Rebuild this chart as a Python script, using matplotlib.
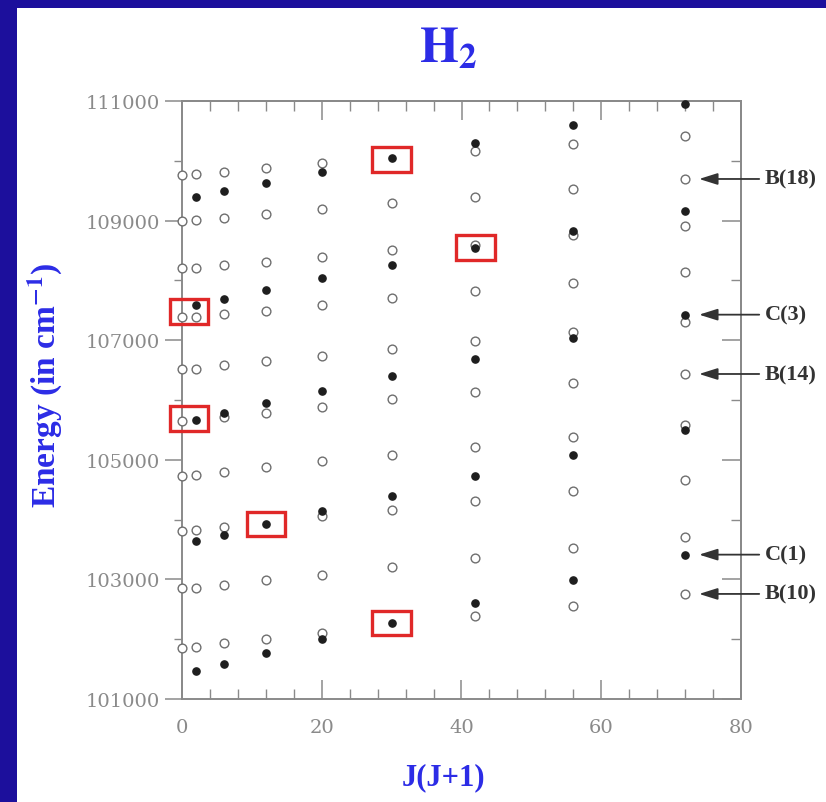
import matplotlib
matplotlib.use("Agg")
import matplotlib.pyplot as plt
from matplotlib.patches import Rectangle
from matplotlib.ticker import MultipleLocator

# J(J+1) columns
jj = [0, 2, 6, 12, 20, 30, 42, 56, 72]

# open circles: levels per column (cm^-1)
open_levels = [
    [109768, 108999, 108208, 107394, 106519, 105655, 104735, 103816, 102852, 101854],
    [109775, 109005, 108215, 107394, 106525, 104745, 103827, 102862, 101865],
    [109818, 109044, 108253, 107439, 106591, 105710, 104797, 103882, 102913, 101933],
    [109880, 109111, 108308, 107494, 106658, 105778, 104875, 102991, 102000],
    [109958, 109194, 108397, 107594, 106741, 105879, 104976, 104061, 103080, 102110],
    [109290, 108509, 107701, 106853, 106010, 105086, 104162, 103214],
    [110159, 109400, 108597, 107818, 106992, 106129, 105220, 104307, 103359, 102389],
    [110281, 109529, 108764, 107957, 107133, 106280, 105377, 104474, 103526, 102556],
    [110420, 109696, 108915, 108136, 107300, 106435, 105588, 104663, 103715, 102757],
]

# filled dots: levels per column (cm^-1)
filled_levels = [
    [],
    [109400, 107594, 105666, 103638, 101475],
    [109490, 107695, 105778, 103749, 101587],
    [109624, 107840, 105946, 103927, 101766],
    [109808, 108036, 106156, 104140, 102000],
    [110042, 108258, 106402, 104401, 102267],
    [110303, 108542, 106686, 104730, 102607],
    [110604, 108831, 107037, 105086, 102991],
    [110950, 109166, 107427, 105499, 103414],
]

# highlighted crossings (box centres)
box_x = [30, 42, 1, 1, 12, 30]
box_e = [110020, 108547, 107480, 105690, 103927, 102267]

# labelled levels at the last column
label_names = ["B(18)", "C(3)", "B(14)", "C(1)", "B(10)"]
label_e = [109696, 107427, 106435, 103414, 102757]

blue = "#2c2ce6"
gray = "#8a8a8a"

plt.rcParams["mathtext.fontset"] = "stix"

fig = plt.figure(figsize=(8.26, 8.03), dpi=100)
fig.patch.set_facecolor("white")

# slide frame
fig.patches.append(Rectangle((0, 0), 17 / 826, 1, transform=fig.transFigure,
                             facecolor="#1c0f9c", edgecolor="none", zorder=0))
fig.patches.append(Rectangle((0, 1 - 9 / 803), 1, 9 / 803, transform=fig.transFigure,
                             facecolor="#1c0f9c", edgecolor="none", zorder=0))

ax = fig.add_axes([182 / 826, 1 - 700 / 803, (741 - 182) / 826, (700 - 102) / 803])
ax.set_xlim(0, 80)
ax.set_ylim(101000, 111000)

for x, levels in zip(jj, open_levels):
    ax.plot([x] * len(levels), levels, "o", ls="none", ms=6.3, mfc="white",
            mec="#6f6f6f", mew=1.0, zorder=3, clip_on=False)
for x, levels in zip(jj, filled_levels):
    ax.plot([x] * len(levels), levels, "o", ls="none", ms=5.2, mfc="#1e1e1e",
            mec="#1e1e1e", zorder=4, clip_on=False)

bw, bh = 5.5, 410
for x, e in zip(box_x, box_e):
    ax.add_patch(Rectangle((x - bw / 2, e - bh / 2), bw, bh, fill=False,
                           edgecolor="#e02828", lw=2.4, zorder=5, clip_on=False))

for name, e in zip(label_names, label_e):
    ax.annotate(name, xy=(74.0, e), xytext=(83.4, e), ha="left", va="center",
                fontsize=16, fontweight="bold", family="Liberation Serif",
                color="#333333", annotation_clip=False,
                arrowprops=dict(arrowstyle="-|>,head_length=0.7,head_width=0.22",
                                color="#333333", lw=1.3, shrinkA=2, shrinkB=0))

for s in ax.spines.values():
    s.set_color(gray)
    s.set_linewidth(1.4)

ax.xaxis.set_major_locator(MultipleLocator(20))
ax.xaxis.set_minor_locator(MultipleLocator(4))
ax.set_yticks([101000, 103000, 105000, 107000, 109000, 111000])
ax.yaxis.set_minor_locator(MultipleLocator(1000))

ax.tick_params(axis="x", which="major", direction="in", length=14, width=1.1,
               color=gray, labelcolor=gray, labelsize=14, pad=14)
ax.tick_params(axis="x", which="minor", direction="in", length=7, width=1.0, color=gray)
ax.tick_params(axis="y", which="major", direction="out", length=12, width=1.1,
               color=gray, labelcolor=gray, labelsize=14, pad=4)
ax.tick_params(axis="y", which="minor", direction="out", length=6, width=1.0, color=gray)
for lab in ax.get_xticklabels() + ax.get_yticklabels():
    lab.set_family("DejaVu Serif")

# inward ticks on top and right
top = ax.secondary_xaxis("top")
top.xaxis.set_major_locator(MultipleLocator(20))
top.xaxis.set_minor_locator(MultipleLocator(4))
top.tick_params(which="major", direction="in", length=14, width=1.1, color=gray, labeltop=False)
top.tick_params(which="minor", direction="in", length=7, width=1.0, color=gray)
top.spines["top"].set_color(gray)
top.spines["top"].set_linewidth(1.4)

right = ax.secondary_yaxis("right")
right.set_yticks([101000, 103000, 105000, 107000, 109000, 111000])
right.yaxis.set_minor_locator(MultipleLocator(1000))
right.tick_params(which="major", direction="in", length=14, width=1.1, color=gray, labelright=False)
right.tick_params(which="minor", direction="in", length=7, width=1.0, color=gray)
right.spines["right"].set_color(gray)
right.spines["right"].set_linewidth(1.4)

fig.text(0.543, 0.94, r"$\mathbf{H_2}$", ha="center", va="center",
         fontsize=36, color=blue)
fig.text(0.537, 0.031, "J(J+1)", ha="center", va="center", fontsize=22,
         fontweight="bold", family="Liberation Serif", color=blue)
fig.text(0.054, 0.52, r"Energy (in cm$^{\mathbf{-1}}$)", ha="center", va="center",
         rotation=90, fontsize=24, fontweight="bold", family="Liberation Serif",
         color=blue)

fig.savefig("out.png", dpi=100)
